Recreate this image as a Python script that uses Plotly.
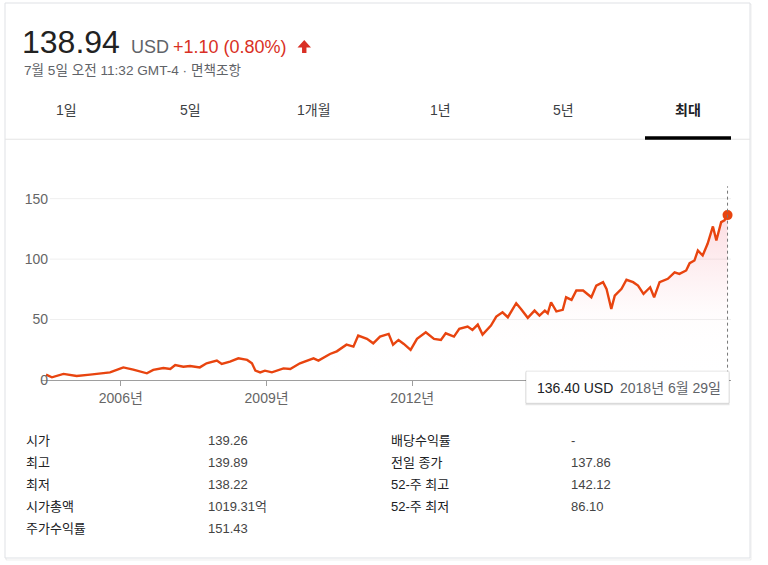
import plotly.graph_objects as go
from datetime import date

# ---------------- data ----------------
dates = [
    "2004-06-18", "2004-08-01", "2004-10-27", "2005-02-03", "2005-05-15", "2005-07-27", "2005-10-12",
    "2006-01-01", "2006-01-20", "2006-04-05", "2006-07-16", "2006-09-02", "2006-11-17",
    "2007-01-08", "2007-02-14", "2007-04-16", "2007-06-06", "2007-08-18", "2007-10-08", "2007-12-24",
    "2008-01-30", "2008-04-01", "2008-06-03", "2008-08-08", "2008-09-13", "2008-10-09", "2008-11-14", "2008-12-20",
    "2009-02-10", "2009-05-08", "2009-06-28", "2009-09-09", "2009-12-20",
    "2010-01-26", "2010-04-23", "2010-06-13", "2010-08-25", "2010-10-16", "2010-11-21",
    "2011-01-26", "2011-03-14", "2011-05-04", "2011-06-02", "2011-07-08", "2011-08-10", "2011-09-20",
    "2011-10-30", "2011-12-20",
    "2012-02-06", "2012-04-12", "2012-06-13", "2012-08-04", "2012-09-09", "2012-11-10", "2012-12-20",
    "2013-02-21", "2013-03-29", "2013-05-08", "2013-06-13", "2013-08-15", "2013-09-24", "2013-11-10", "2013-12-20",
    "2014-02-21", "2014-03-29", "2014-05-19", "2014-07-09", "2014-08-15", "2014-09-24", "2014-10-16",
    "2014-11-10", "2014-12-20",
    "2015-02-06", "2015-03-03", "2015-04-13", "2015-05-19", "2015-07-09", "2015-08-04", "2015-09-09",
    "2015-10-16", "2015-12-06",
    "2016-01-01", "2016-02-06", "2016-03-03", "2016-04-23", "2016-05-30", "2016-07-19", "2016-08-25",
    "2016-10-05", "2016-11-24", "2016-12-24",
    "2017-02-03", "2017-04-06", "2017-05-27", "2017-07-02", "2017-08-22", "2017-09-17", "2017-10-23",
    "2017-11-18", "2017-12-24",
    "2018-01-30", "2018-03-11", "2018-04-06", "2018-05-12", "2018-06-06", "2018-06-29",
]
prices = [
    4.4, 2.2, 5.0, 3.3, 4.4, 5.5, 6.3,
    9.6, 10.4, 8.5, 5.5, 8.3, 9.9,
    9.1, 12.4, 11.0, 11.6, 10.4, 13.8, 16.0,
    13.2, 15.2, 17.9, 16.6, 13.8, 7.7, 6.3, 7.7,
    6.3, 9.6, 9.1, 13.8, 17.9,
    16.0, 21.5, 23.7, 29.2, 27.6, 36.7,
    34.0, 30.3, 35.9, 36.7, 38.1, 29.2, 33.1,
    29.8, 24.9,
    34.0, 39.4, 34.0, 33.1, 38.6, 35.9, 42.3,
    44.2, 41.4, 45.8, 37.5, 45.0, 52.4, 56.0, 51.9,
    63.5, 58.8, 51.4, 57.4, 53.3, 57.4, 55.2,
    64.3, 56.8,
    58.0, 68.4, 66.3, 74.0, 74.0, 71.3, 68.4,
    78.1, 80.9,
    75.4, 58.8, 69.8, 75.4, 82.9, 80.9, 78.1,
    71.3, 76.7, 68.4,
    80.9, 83.7, 89.1, 87.8, 90.6, 96.6, 98.8,
    107.1, 103.0,
    112.7, 127.0, 115.4, 130.6, 132.0, 136.40,
]
x_tick_vals = ["2006-01-01", "2009-01-01", "2012-01-01"]
y_tick_vals = [0, 50, 100, 150]

price = "138.94"
currency = "USD"
change = "+1.10 (0.80%)"
timestamp = "7월 5일 오전 11:32 GMT-4 · 면책조항"
tabs = ["1일", "5일", "1개월", "1년", "5년", "최대"]
active_tab = "최대"

left_labels = ["시가", "최고", "최저", "시가총액", "주가수익률"]
left_values = ["139.26", "139.89", "138.22", "1019.31억", "151.43"]
right_labels = ["배당수익률", "전일 종가", "52-주 최고", "52-주 최저"]
right_values = ["-", "137.86", "142.12", "86.10"]

# ---------------- styling ----------------
W, H = 768, 565          # target picture size
FIG_H = 574              # figure height (the capture compresses it vertically to H)
FONT = "Arial, 'Liberation Sans', 'Noto Sans CJK KR', sans-serif"
LINE = "#e8440f"
RED = "#d93025"


def px(x):
    return x / W


def py(y):
    return 1 - y / H


fig = go.Figure()

fig.add_trace(go.Scatter(
    x=dates, y=prices, mode="lines",
    line=dict(color=LINE, width=2.4),
    fill="tozeroy",
    fillgradient=dict(
        type="vertical",
        colorscale=[[0, "rgba(255,255,255,0)"], [0.4, "rgba(245,120,140,0.02)"],
                    [1, "rgba(240,90,115,0.22)"]],
        start=0, stop=140,
    ),
    hoverinfo="skip", showlegend=False,
))
fig.add_trace(go.Scatter(
    x=[dates[-1]], y=[prices[-1]], mode="markers",
    marker=dict(color=LINE, size=10),
    hoverinfo="skip", showlegend=False, cliponaxis=False,
))

shapes = []
annotations = []

# card
shapes.append(dict(type="rect", xref="paper", yref="paper",
                   x0=px(6), x1=px(751), y0=py(4), y1=py(559),
                   line=dict(color="rgba(0,0,0,0.07)", width=1), fillcolor="rgba(0,0,0,0)", layer="below"))
shapes.append(dict(type="rect", xref="paper", yref="paper",
                   x0=px(5), x1=px(750), y0=py(3), y1=py(557),
                   line=dict(color="#dfe1e5", width=1), fillcolor="white", layer="below"))

# gridlines
for v in y_tick_vals[1:]:
    shapes.append(dict(type="line", xref="paper", yref="y", x0=px(50), x1=px(731), y0=v, y1=v,
                       line=dict(color="#efefef", width=1), layer="below"))

# tab separator and active underline
shapes.append(dict(type="line", xref="paper", yref="paper", x0=px(5), x1=px(750), y0=py(139), y1=py(139),
                   line=dict(color="#e4e4e4", width=1)))
shapes.append(dict(type="rect", xref="paper", yref="paper", x0=px(645), x1=px(731), y0=py(136), y1=py(139.5),
                   line=dict(width=0), fillcolor="#000000"))

# hover line
shapes.append(dict(type="line", xref="x", yref="paper", x0=dates[-1], x1=dates[-1],
                   y0=py(379), y1=py(186), line=dict(color="#777777", width=1, dash="dot")))

# up arrow
ax0, ax1 = 297.5, 311
amid = (ax0 + ax1) / 2
shapes.append(dict(type="path", xref="paper", yref="paper",
                   path=(f"M {px(amid)} {py(40)} L {px(ax1)} {py(47.5)} L {px(amid+2.2)} {py(47.5)} "
                         f"L {px(amid+2.2)} {py(53)} L {px(amid-2.2)} {py(53)} L {px(amid-2.2)} {py(47.5)} "
                         f"L {px(ax0)} {py(47.5)} Z"),
                   fillcolor=RED, line=dict(width=0)))

# tooltip
shapes.append(dict(type="rect", xref="paper", yref="paper", x0=px(525.5), x1=px(729.5), y0=py(371.5), y1=py(404.5),
                   fillcolor="rgba(0,0,0,0.10)", line=dict(width=0), layer="above"))
shapes.append(dict(type="rect", xref="paper", yref="paper", x0=px(526), x1=px(729), y0=py(370.5), y1=py(402.5),
                   fillcolor="white", line=dict(color="rgba(0,0,0,0.10)", width=1), layer="above"))


def txt(x, y, s, size, color, anchor="left", bold=False):
    annotations.append(dict(x=px(x), y=py(y), xref="paper", yref="paper", text=(f"<b>{s}</b>" if bold else s),
                            showarrow=False, xanchor=anchor, yanchor="middle",
                            font=dict(family=FONT, size=size, color=color)))


txt(20, 42, price, 32, "#222222")
txt(129, 47, currency, 18, "#5f6368")
txt(171, 47, change, 18, RED)
txt(22, 70, timestamp, 13.6, "#5f6368")

tab_x = [66, 190, 314, 440, 563, 688]
for t, x in zip(tabs, tab_x):
    if t == active_tab:
        txt(x, 110, t, 14, "#202124", anchor="center", bold=True)
    else:
        txt(x, 110, t, 14, "#3c4043", anchor="center")

row_y = [440, 462, 484, 506, 528]
for lab, val, y in zip(left_labels, left_values, row_y):
    txt(24, y, lab, 13, "#202124")
    txt(206, y, val, 13, "#444444")
for lab, val, y in zip(right_labels, right_values, row_y):
    txt(389, y, lab, 13, "#202124")
    txt(569, y, val, 13, "#444444")

d = date.fromisoformat(dates[-1])
txt(535, 387, f"{prices[-1]:.2f} {currency}", 14, "#202124")
txt(618, 387, f"{d.year}년 {d.month}월 {d.day}일", 14, "#5f6368")

fig.update_layout(
    width=W, height=FIG_H,
    margin=dict(l=0, r=0, t=0, b=0),
    paper_bgcolor="white", plot_bgcolor="rgba(0,0,0,0)",
    hovermode=False,
    shapes=shapes, annotations=annotations,
    font=dict(family=FONT),
    xaxis=dict(
        type="date", domain=[px(41), px(731)],
        range=["2004-05-11", "2018-07-25"],
        tickvals=x_tick_vals, tickformat="%Y년",
        ticks="outside", ticklen=5, tickcolor="#9e9e9e", tickwidth=1,
        showline=True, linecolor="#9e9e9e", linewidth=1,
        showgrid=False, zeroline=False,
        tickfont=dict(family=FONT, size=14, color="#666666"),
        fixedrange=True,
    ),
    yaxis=dict(
        domain=[py(379.3), py(186)], range=[0, 160.2],
        tickvals=y_tick_vals, showgrid=False, zeroline=False, showline=False,
        ticks="", ticklabelstandoff=-8,
        tickfont=dict(family=FONT, size=14, color="#666666"),
        fixedrange=True,
    ),
)

fig.write_html(
    "out.html", config={"displayModeBar": False},
    post_script="document.body.style.margin='0px';",
)
